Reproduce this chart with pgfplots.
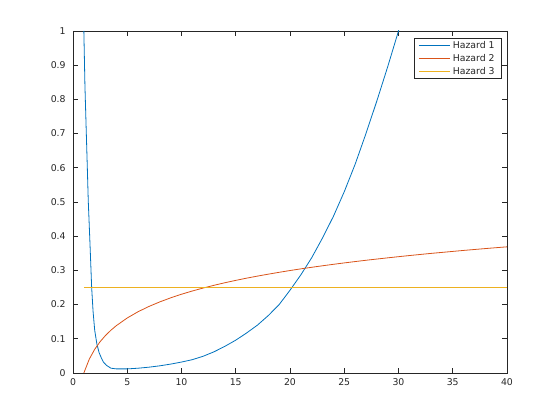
\documentclass[border=0pt]{standalone}
\usepackage{fontspec}
\setmainfont{DejaVu Sans}
\usepackage{pgfplots}
\pgfplotsset{compat=1.18}
\definecolor{mB}{rgb}{0,0.447,0.741}
\definecolor{mO}{rgb}{0.85,0.325,0.098}
\definecolor{mY}{rgb}{0.929,0.694,0.125}
\definecolor{mG}{rgb}{0.15,0.15,0.15}
\begin{document}
\begin{tikzpicture}
\useasboundingbox (0,0) rectangle (420pt,315pt);
\begin{axis}[
  at={(54.75pt,35.25pt)}, anchor=south west,
  scale only axis, width=325.5pt, height=256.5pt,
  xmin=0, xmax=40, ymin=0, ymax=1,
  xtick={0,5,10,15,20,25,30,35,40},
  ytick={0,0.1,0.2,0.3,0.4,0.5,0.6,0.7,0.8,0.9,1},
  tick align=inside, major tick length=3.5pt,
  axis line style={mG, line width=0.6pt},
  tick style={mG, line width=0.6pt},
  ticklabel style={font=\fontsize{7}{8}\selectfont, text=mG},
  xticklabel style={yshift=-1pt},
  yticklabel style={xshift=-2pt},
  /pgf/number format/assume math mode=true,
  legend cell align=left,
  legend style={at={(1,1)}, anchor=north east, xshift=-4pt, yshift=-5.5pt,
    draw=mG, line width=0.5pt, font=\fontsize{7}{8}\selectfont, text=mG,
    inner xsep=3pt, inner ysep=0pt, row sep=-1.2pt},
  legend image code/.code={\draw[#1, line width=0.8pt] (0pt,0pt) -- (23pt,0pt);},
]
% Hazard 1 (bathtub)
\addplot[mB, line width=0.6pt] coordinates {
  (1,1.0) (1.1,0.84) (1.2,0.73) (1.32,0.60) (1.41,0.50) (1.5,0.43)
  (1.6,0.35) (1.72,0.25) (1.85,0.18) (2.0,0.125) (2.2,0.085) (2.4,0.06)
  (2.6,0.045) (2.8,0.032) (3.1,0.022) (3.5,0.014) (4,0.012) (5,0.012)
  (6,0.014) (7,0.017) (8,0.021) (9,0.026) (10,0.032) (11,0.039)
  (12,0.049) (13,0.062) (14,0.078) (15,0.096) (16,0.117) (17,0.140)
  (18,0.168) (19,0.200) (20,0.242) (21,0.287) (22,0.337) (23,0.395)
  (24,0.458) (25,0.530) (26,0.610) (27,0.700) (28,0.795) (29,0.895)
  (30,1.0) (31,1.11)
};
\addlegendentry{Hazard 1}
% Hazard 2
\addplot[mO, line width=0.6pt] coordinates {
  (1,0) (1.5,0.0405) (2,0.0693) (2.5,0.0916) (3,0.1099) (3.5,0.1253)
  (4,0.1386) (5,0.1609) (6,0.1792) (7,0.1946) (8,0.2079) (9,0.2197)
  (10,0.2303) (11,0.2398) (12,0.2485) (13,0.2565) (14,0.2639) (15,0.2708)
  (16,0.2773) (17,0.2833) (18,0.2890) (19,0.2944) (20,0.2996) (21,0.3045)
  (22,0.3091) (23,0.3135) (24,0.3178) (25,0.3219) (26,0.3258) (27,0.3296)
  (28,0.3332) (29,0.3367) (30,0.3401) (31,0.3434) (32,0.3466) (33,0.3497)
  (34,0.3526) (35,0.3555) (36,0.3584) (37,0.3611) (38,0.3638) (39,0.3664)
  (40,0.3689)
};
\addlegendentry{Hazard 2}
% Hazard 3
\addplot[mY, line width=0.6pt] coordinates {(1,0.25) (40,0.25)};
\addlegendentry{Hazard 3}
\end{axis}
\end{tikzpicture}
\end{document}
